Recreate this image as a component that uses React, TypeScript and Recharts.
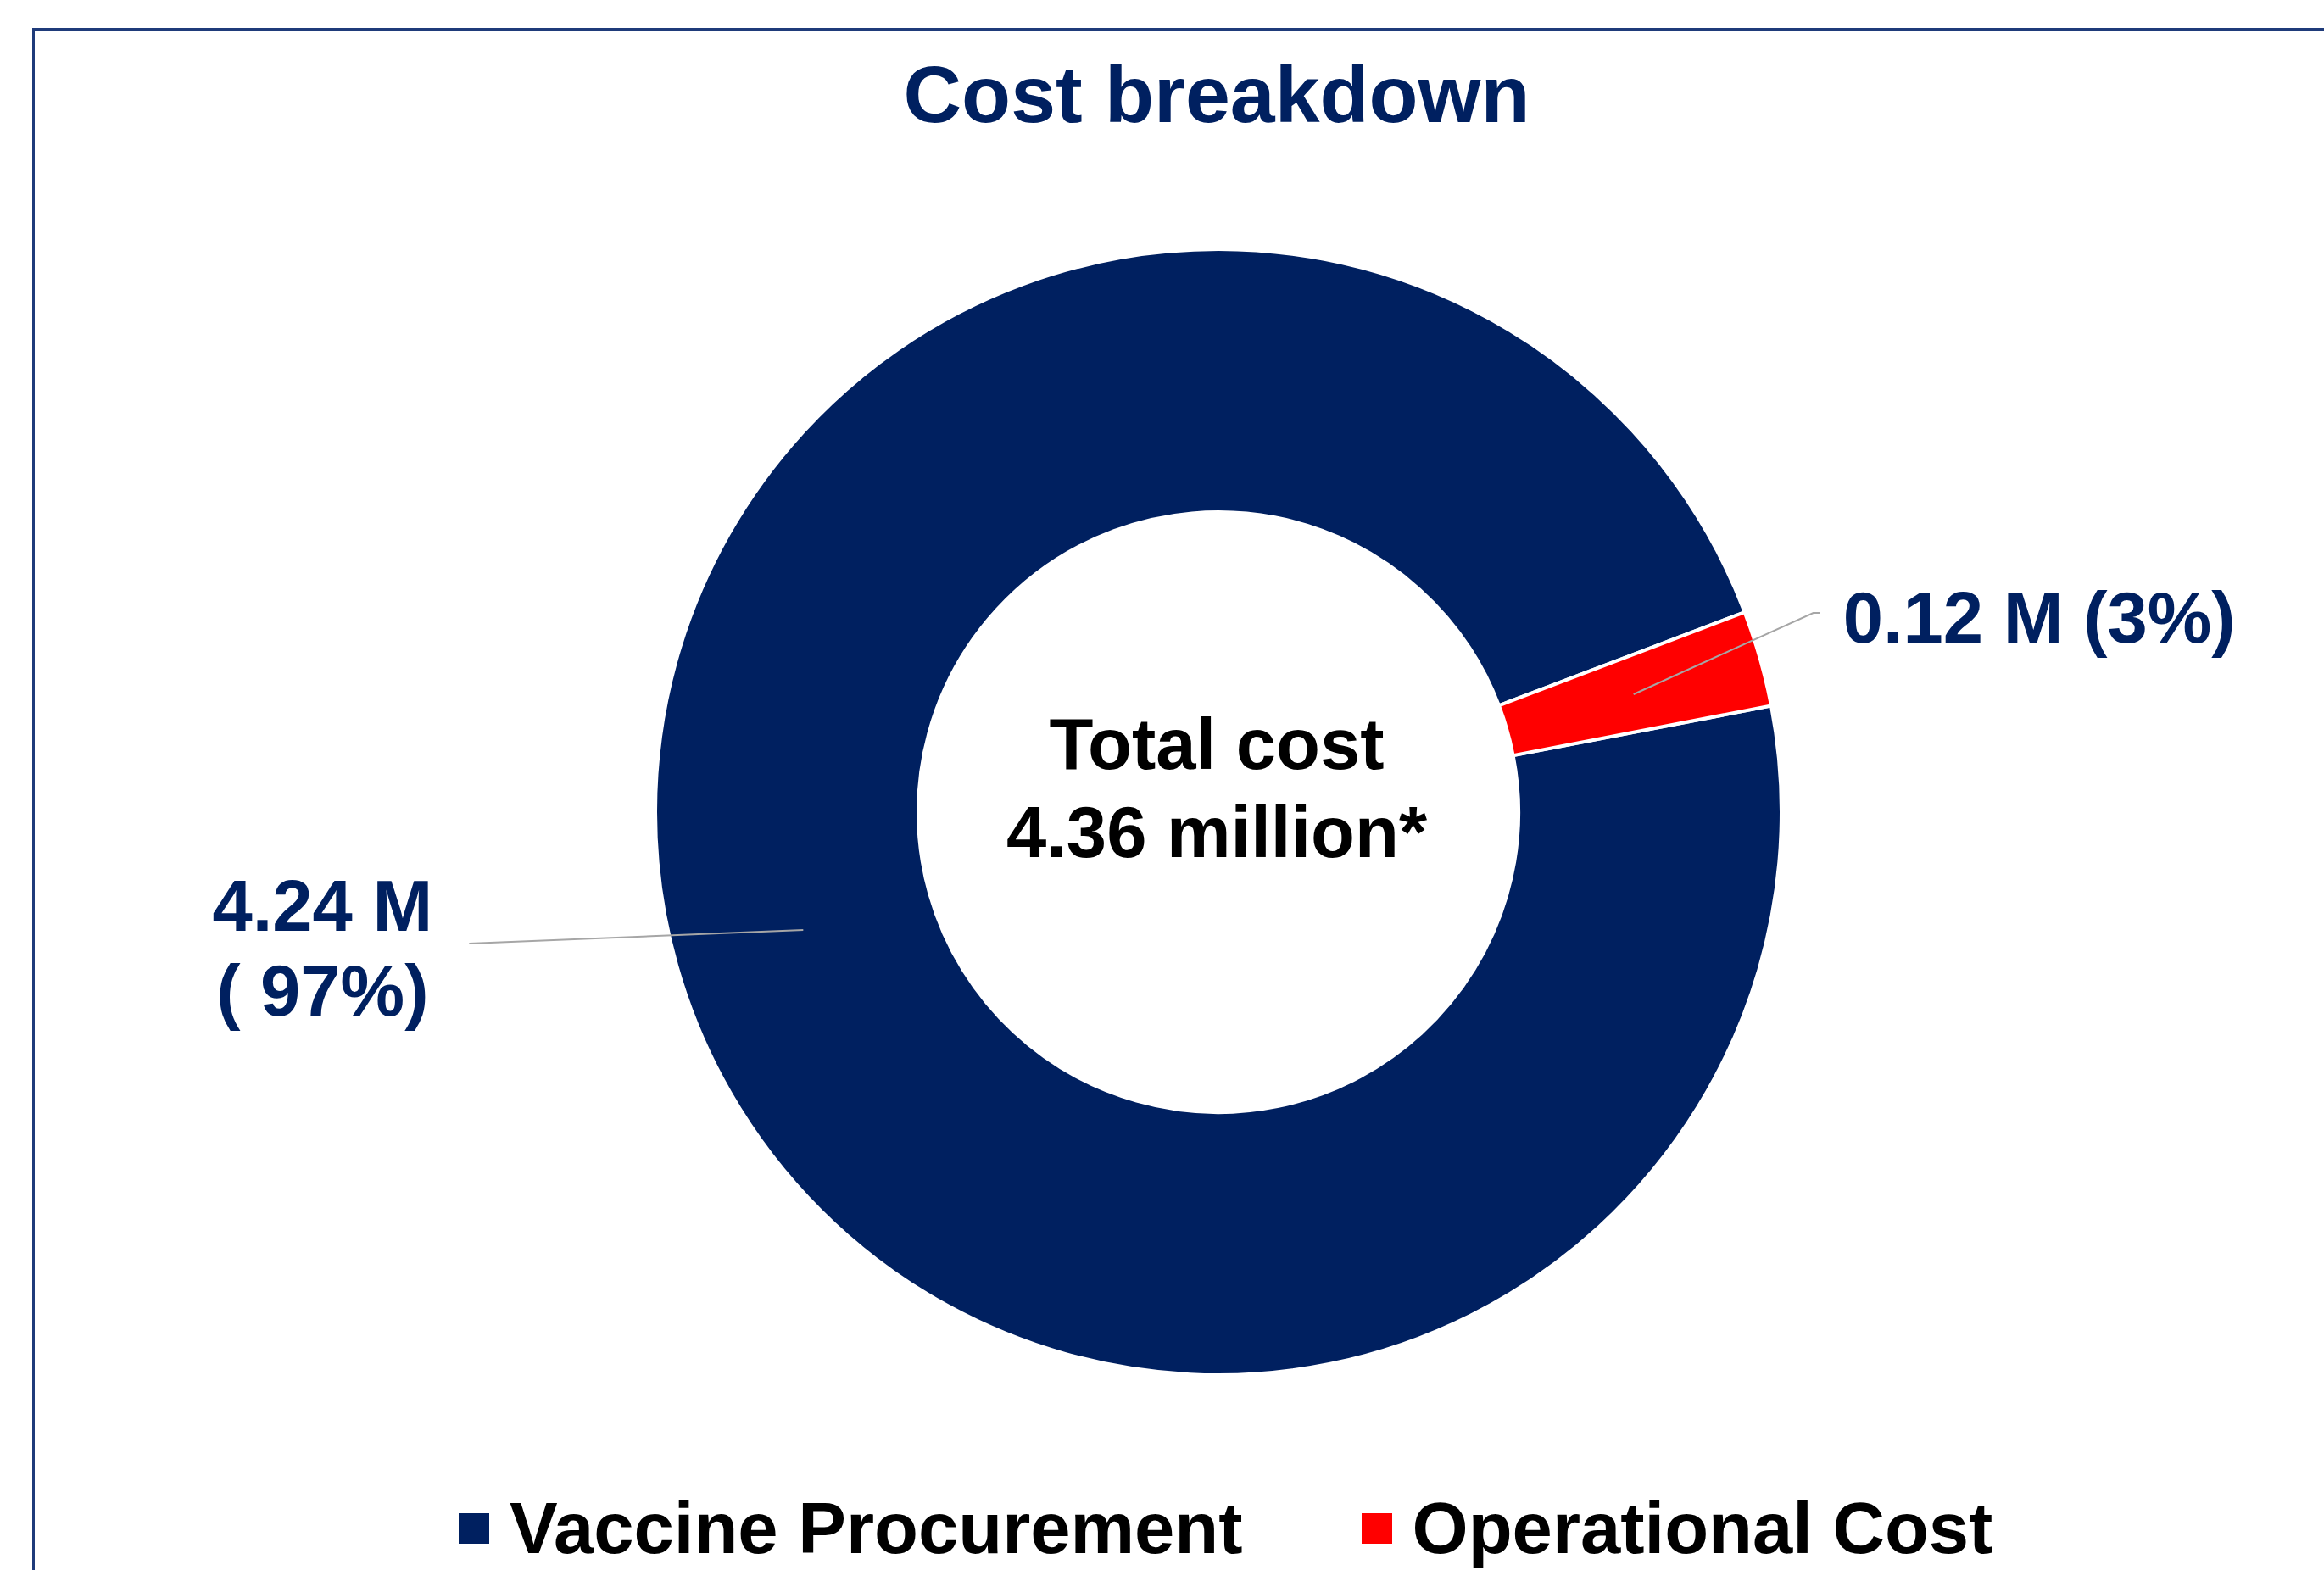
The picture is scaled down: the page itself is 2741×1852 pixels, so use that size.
import React from 'react'
import { PieChart, Pie, Cell, Legend } from 'recharts'

const categories = ['Vaccine Procurement', 'Operational Cost']
const costs = [4.24, 0.12]
const colors = ['#002060', '#FF0000']
const totalLines = ['Total cost', '4.36 million*']

const data = categories.map((name, i) => ({ name, value: costs[i] }))

const FONT = '"Liberation Sans", Arial, sans-serif'
const NAVY = '#002060'
const RADIAN = Math.PI / 180

// leader line end offsets (from the middle of the ring) for each slice
const leaderOffsets = [
  { dx: -394, dy: 16 },
  { dx: 212, dy: -96 },
]

function renderLabel(props: any) {
  const { cx, cy, midAngle, innerRadius, outerRadius, value, percent, index } = props
  const r = (innerRadius + outerRadius) / 2
  const sx = cx + r * Math.cos(-midAngle * RADIAN)
  const sy = cy + r * Math.sin(-midAngle * RADIAN)
  const off = leaderOffsets[index]
  const ex = sx + off.dx
  const ey = sy + off.dy
  const pct = Math.round(percent * 100)
  const amount = `${value.toFixed(2)} M`

  if (off.dx < 0) {
    return (
      <g key={`lbl-${index}`}>
        <line x1={sx} y1={sy} x2={ex} y2={ey} stroke="#A6A6A6" strokeWidth={2} />
        <text x={ex - 173} y={ey - 15} textAnchor="middle" fill={NAVY} fontSize={85} fontWeight="bold" fontFamily={FONT}>
          {amount}
        </text>
        <text x={ex - 173} y={ey + 85} textAnchor="middle" fill={NAVY} fontSize={85} fontWeight="bold" fontFamily={FONT}>
          {`( ${pct}%)`}
        </text>
      </g>
    )
  }
  return (
    <g key={`lbl-${index}`}>
      <polyline points={`${sx},${sy} ${ex},${ey} ${ex + 8},${ey}`} fill="none" stroke="#A6A6A6" strokeWidth={2} />
      <text x={ex + 35} y={ey + 35} textAnchor="start" fill={NAVY} fontSize={85} fontWeight="bold" fontFamily={FONT}>
        {`${amount} (${pct}%)`}
      </text>
    </g>
  )
}

function renderLegend(props: any) {
  const payload = [...(props.payload || [])].sort(
    (a: any, b: any) => categories.indexOf(a.value) - categories.indexOf(b.value)
  )
  return (
    <div style={{ display: 'flex', justifyContent: 'flex-start', alignItems: 'center', gap: 140, paddingLeft: 541 }}>
      {payload.map((entry: any) => (
        <div key={entry.value} style={{ display: 'flex', alignItems: 'center' }}>
          <div style={{ width: 36, height: 36, background: entry.color, marginRight: 24 }} />
          <span style={{ fontFamily: FONT, fontWeight: 'bold', fontSize: 85, color: '#000', lineHeight: '98px' }}>
            {entry.value}
          </span>
        </div>
      ))}
    </div>
  )
}

export default function App() {
  return (
    <div style={{ position: 'absolute', left: 0, top: 0, width: 2741, height: 1852, background: '#fff', overflow: 'hidden' }}>
      <div
        style={{
          position: 'absolute',
          left: 38,
          top: 33,
          right: -10,
          bottom: -10,
          borderLeft: '3px solid #1F3B7A',
          borderTop: '3px solid #1F3B7A',
        }}
      />
      <PieChart width={2741} height={1852} style={{ position: 'absolute', left: 0, top: 0 }}>
        <text x={1435} y={144} textAnchor="middle" fill={NAVY} fontSize={95} fontWeight="bold" fontFamily={FONT}>
          Cost breakdown
        </text>
        <Pie
          data={data}
          dataKey="value"
          nameKey="name"
          cx={1432}
          cy={953}
          innerRadius={354}
          outerRadius={664}
          startAngle={20.8}
          endAngle={380.8}
          stroke="#FFFFFF"
          strokeWidth={4}
          label={renderLabel}
          labelLine={false}
          isAnimationActive={false}
        >
          {data.map((entry, i) => (
            <Cell key={entry.name} fill={colors[i % colors.length]} />
          ))}
        </Pie>
        {totalLines.map((t, i) => (
          <text key={t} x={1435} y={907 + i * 104} textAnchor="middle" fill="#000" fontSize={85} fontWeight="bold" fontFamily={FONT}>
            {t}
          </text>
        ))}
        <Legend
          verticalAlign="bottom"
          content={renderLegend}
          itemSorter={null as any}
          wrapperStyle={{ left: 0, top: 1754, width: 2741 }}
        />
      </PieChart>
    </div>
  )
}
